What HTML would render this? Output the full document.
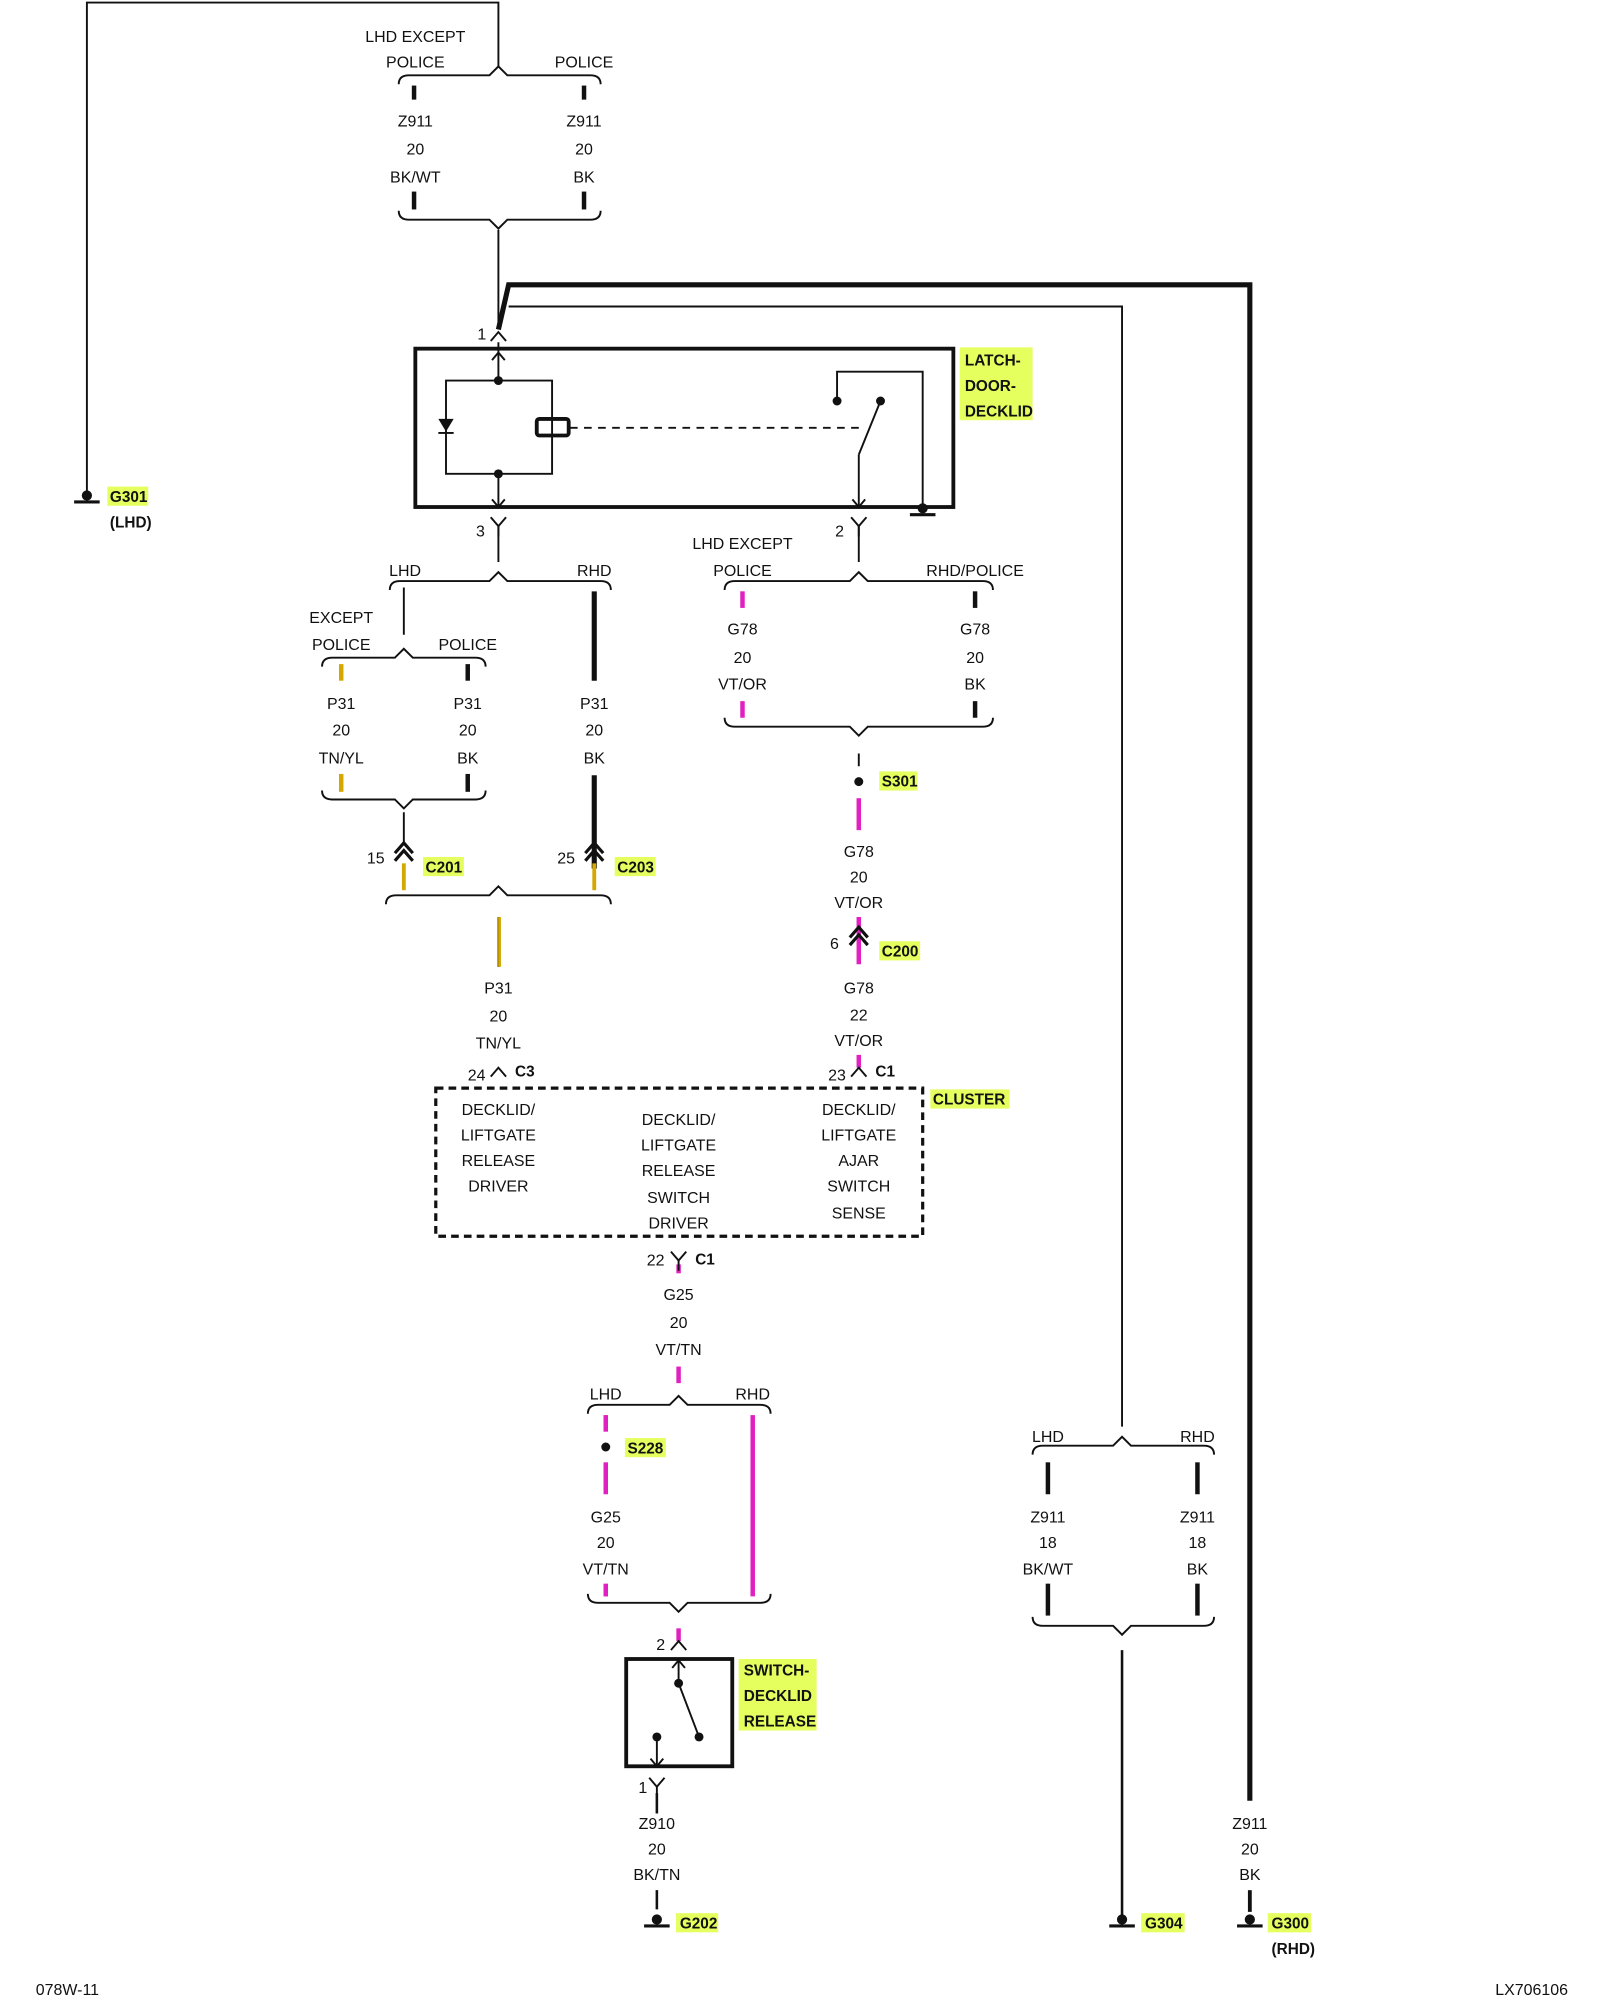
<!DOCTYPE html>
<html><head><meta charset="utf-8"><style>
html,body{margin:0;padding:0;background:#fff;width:1600px;height:2000px;overflow:hidden}
svg{display:block}
text{font-family:"Liberation Sans",sans-serif;font-size:12.5px;fill:#111;text-anchor:middle}
.l{text-anchor:start;font-weight:bold;font-size:12px}
.s{text-anchor:start}
</style></head><body>
<svg id="s" width="1600" height="2000" viewBox="0 0 1252 1566" preserveAspectRatio="none" xmlns="http://www.w3.org/2000/svg">
<g fill="#e4ff5e">
<rect x="751" y="272" width="57" height="57"/>
<rect x="84" y="381" width="32" height="15"/>
<rect x="331" y="671" width="32" height="15"/>
<rect x="481" y="671" width="32" height="15"/>
<rect x="688" y="604" width="30" height="15"/>
<rect x="688" y="737" width="32" height="15"/>
<rect x="728" y="853" width="62" height="15"/>
<rect x="489" y="1126" width="32" height="15"/>
<rect x="578" y="1299" width="61" height="56"/>
<rect x="529" y="1498" width="33" height="15"/>
<rect x="893" y="1498" width="34" height="15"/>
<rect x="992" y="1498" width="34" height="15"/>
</g>
<g id="g" fill="none" stroke="#111" stroke-width="1.5">
<path d="M68,388V2H390V52"/>
<path d="M390,180V258"/>
<path d="M390,258L398,223H978V1410" stroke-width="4"/>
<path d="M398,240H878V1117"/>
<rect x="325" y="273" width="421" height="124" stroke-width="3"/>
<path d="M390,268V298M349,298H432V371H349ZM390,371V397M672,356V397M655,314V291H722V397" />
<rect x="420" y="328" width="25" height="13" rx="2" stroke-width="3"/>
<path d="M446,335H672" stroke-dasharray="6,5"/>
<path d="M689,314L672,356"/>
<path d="M390,412V440M316,460V497M316,636V660M390,718V757"/>
<path d="M465,463V533M465,607V680" stroke-width="4"/>
<path d="M672,412V440M672,590V600"/>
<rect x="341" y="852" width="381" height="116" stroke-width="2.5" stroke-dasharray="6,4"/>
<path d="M531,1299V1318M531,1318L547,1360M514,1360V1383"/>
<rect x="490" y="1299" width="83" height="84" stroke-width="3"/>
<path d="M514,1404V1420M514,1480V1495M878,1292V1500" stroke-width="2"/>
<path d="M978,1480V1497" stroke-width="3"/>
</g>
<g id="d" fill="#111"></g>
<text x="325" y="33">LHD EXCEPT</text><text x="325" y="53">POLICE</text><text x="457" y="53">POLICE</text>
<text x="325" y="99">Z911</text><text x="325" y="121">20</text><text x="325" y="143">BK/WT</text>
<text x="457" y="99">Z911</text><text x="457" y="121">20</text><text x="457" y="143">BK</text>
<text x="377" y="266">1</text>
<text class="l" x="755" y="286">LATCH-</text><text class="l" x="755" y="306">DOOR-</text><text class="l" x="755" y="326">DECKLID</text>
<text class="l" x="86" y="393">G301</text><text class="l" x="86" y="413">(LHD)</text>
<text x="376" y="420">3</text><text x="657" y="420">2</text>
<text x="317" y="451">LHD</text><text x="465" y="451">RHD</text>
<text x="581" y="430">LHD EXCEPT</text><text x="581" y="451">POLICE</text><text x="763" y="451">RHD/POLICE</text>
<text x="267" y="488">EXCEPT</text><text x="267" y="509">POLICE</text><text x="366" y="509">POLICE</text>
<text x="267" y="555">P31</text><text x="267" y="576">20</text><text x="267" y="598">TN/YL</text>
<text x="366" y="555">P31</text><text x="366" y="576">20</text><text x="366" y="598">BK</text>
<text x="465" y="555">P31</text><text x="465" y="576">20</text><text x="465" y="598">BK</text>
<text x="581" y="497">G78</text><text x="581" y="519">20</text><text x="581" y="540">VT/OR</text>
<text x="763" y="497">G78</text><text x="763" y="519">20</text><text x="763" y="540">BK</text>
<text class="l" x="690" y="616">S301</text>
<text x="294" y="676">15</text><text class="l" x="333" y="683">C201</text>
<text x="443" y="676">25</text><text class="l" x="483" y="683">C203</text>
<text x="672" y="671">G78</text><text x="672" y="691">20</text><text x="672" y="711">VT/OR</text>
<text x="653" y="743">6</text><text class="l" x="690" y="749">C200</text>
<text x="672" y="778">G78</text><text x="672" y="799">22</text><text x="672" y="819">VT/OR</text>
<text x="390" y="778">P31</text><text x="390" y="800">20</text><text x="390" y="821">TN/YL</text>
<text x="373" y="846">24</text><text class="l" x="403" y="843">C3</text>
<text x="655" y="846">23</text><text class="l" x="685" y="843">C1</text>
<text class="l" x="730" y="865">CLUSTER</text>
<text x="390" y="873">DECKLID/</text><text x="390" y="893">LIFTGATE</text><text x="390" y="913">RELEASE</text><text x="390" y="933">DRIVER</text>
<text x="531" y="881">DECKLID/</text><text x="531" y="901">LIFTGATE</text><text x="531" y="921">RELEASE</text><text x="531" y="942">SWITCH</text><text x="531" y="962">DRIVER</text>
<text x="672" y="873">DECKLID/</text><text x="672" y="893">LIFTGATE</text><text x="672" y="913">AJAR</text><text x="672" y="933">SWITCH</text><text x="672" y="954">SENSE</text>
<text x="513" y="991">22</text><text class="l" x="544" y="990">C1</text>
<text x="531" y="1018">G25</text><text x="531" y="1040">20</text><text x="531" y="1061">VT/TN</text>
<text x="474" y="1096">LHD</text><text x="589" y="1096">RHD</text>
<text class="l" x="491" y="1138">S228</text>
<text x="474" y="1192">G25</text><text x="474" y="1212">20</text><text x="474" y="1233">VT/TN</text>
<text x="517" y="1292">2</text>
<text class="l" x="582" y="1312">SWITCH-</text><text class="l" x="582" y="1332">DECKLID</text><text class="l" x="582" y="1352">RELEASE</text>
<text x="503" y="1404">1</text>
<text x="514" y="1432">Z910</text><text x="514" y="1452">20</text><text x="514" y="1472">BK/TN</text>
<text class="l" x="532" y="1510">G202</text>
<text x="820" y="1129">LHD</text><text x="937" y="1129">RHD</text>
<text x="820" y="1192">Z911</text><text x="820" y="1212">18</text><text x="820" y="1233">BK/WT</text>
<text x="937" y="1192">Z911</text><text x="937" y="1212">18</text><text x="937" y="1233">BK</text>
<text class="l" x="896" y="1510">G304</text>
<text x="978" y="1432">Z911</text><text x="978" y="1452">20</text><text x="978" y="1472">BK</text>
<text class="l" x="995" y="1510">G300</text><text class="l" x="995" y="1530">(RHD)</text>
<text class="s" x="28" y="1562">078W-11</text><text class="s" x="1170" y="1562">LX706106</text>
</svg>
<script>
var NS="http://www.w3.org/2000/svg",G=document.getElementById('g'),D=document.getElementById('d');
function el(p,t,a){var e=document.createElementNS(NS,t);for(var k in a)e.setAttribute(k,a[k]);p.appendChild(e);return e;}
function path(d,c,w){el(G,'path',{d:d,stroke:c||'#111','stroke-width':w||1.5});}
function br(x1,x2,y,cx,up){var s=up?1:-1;path('M'+x1+','+(y+7*s)+'Q'+x1+','+y+' '+(x1+8)+','+y+'L'+(cx-7)+','+y+'L'+cx+','+(y-7*s)+'L'+(cx+7)+','+y+'L'+(x2-8)+','+y+'Q'+x2+','+y+' '+x2+','+(y+7*s));}
br(312,470,59,390,true);br(312,470,172,390,false);
br(305,478,455,390,true);br(252,380,515,316,true);br(252,380,626,316,false);
br(302,478,701,390,true);
br(567,777,455,672,true);br(567,777,569,672,false);
br(460,603,1100,531,true);br(460,603,1255,531,false);
br(808,950,1132,878,true);br(808,950,1273,878,false);
function v(x,y1,y2,c,w){path('M'+x+','+y1+'V'+y2,c,w);}
var pk='#e020c0',ty='#d4a800',br2='#8a6a00';
v(324,67,78,'#111',3.5);v(457,67,78,'#111',3.5);v(324,150,164,'#111',3.5);v(457,150,164,'#111',3.5);
v(267,520,533,ty,3.5);v(366,520,533,'#111',3.5);v(267,606,620,ty,3.5);v(366,606,620,'#111',3.5);
v(316,676,697,ty,3);v(465,676,697,ty,3);v(390,718,757,br2,1.5);v(391,718,757,ty,2);
v(581,463,476,pk,3.5);v(763,463,476,'#111',3.5);v(581,549,562,pk,3.5);v(763,549,562,'#111',3.5);
v(672,625,650,pk,3.5);v(672,718,755,pk,3.5);v(672,826,836,pk,3.5);
v(531,990,997,pk,3.5);v(531,1070,1083,pk,3.5);
v(474,1108,1121,pk,3.5);v(474,1145,1170,pk,3.5);v(474,1240,1250,pk,3.5);v(589,1108,1250,pk,3.5);
v(531,1275,1285,pk,3.5);
v(820,1145,1170,'#111',3.5);v(937,1145,1170,'#111',3.5);v(820,1240,1265,'#111',3.5);v(937,1240,1265,'#111',3.5);
function up(x,y){path('M'+(x-6)+','+(y+5)+'L'+x+','+(y-2)+'L'+(x+6)+','+(y+5));}
function dn(x,y){path('M'+(x-6)+','+(y-5)+'L'+x+','+(y+2)+'L'+(x+6)+','+(y-5));v(x,y+2,y+10);}
up(390,262);dn(390,410);dn(672,410);up(390,838);up(672,838);dn(531,985);up(531,1287);dn(514,1397);
function dch(x,y){path('M'+(x-7)+','+(y+4)+'L'+x+','+(y-4)+'L'+(x+7)+','+(y+4),'#111',2.5);path('M'+(x-7)+','+(y+10)+'L'+x+','+(y+2)+'L'+(x+7)+','+(y+10),'#111',2.5);}
dch(316,664);dch(465,664);dch(672,730);
function ar(x,y,d){path('M'+(x-5)+','+(y-6*d)+'L'+x+','+y+'L'+(x+5)+','+(y-6*d));}
ar(390,276,-1);ar(390,397,1);ar(672,397,1);ar(531,1300,-1);ar(514,1383,1);
el(D,'path',{d:'M343,328H355L349,338Z'});path('M343,339H355');
[[390,298],[390,371],[655,314],[689,314],[672,612],[474,1133],[531,1318],[547,1360],[514,1360]].forEach(function(p){el(D,'circle',{cx:p[0],cy:p[1],r:3.5});});
function gnd(x,y){el(D,'circle',{cx:x,cy:y-3,r:4});path('M'+(x-10)+','+(y+2)+'H'+(x+10),'#111',2.5);}
gnd(68,391);gnd(514,1506);gnd(878,1506);gnd(978,1506);gnd(722,401);
</script>
</body></html>
